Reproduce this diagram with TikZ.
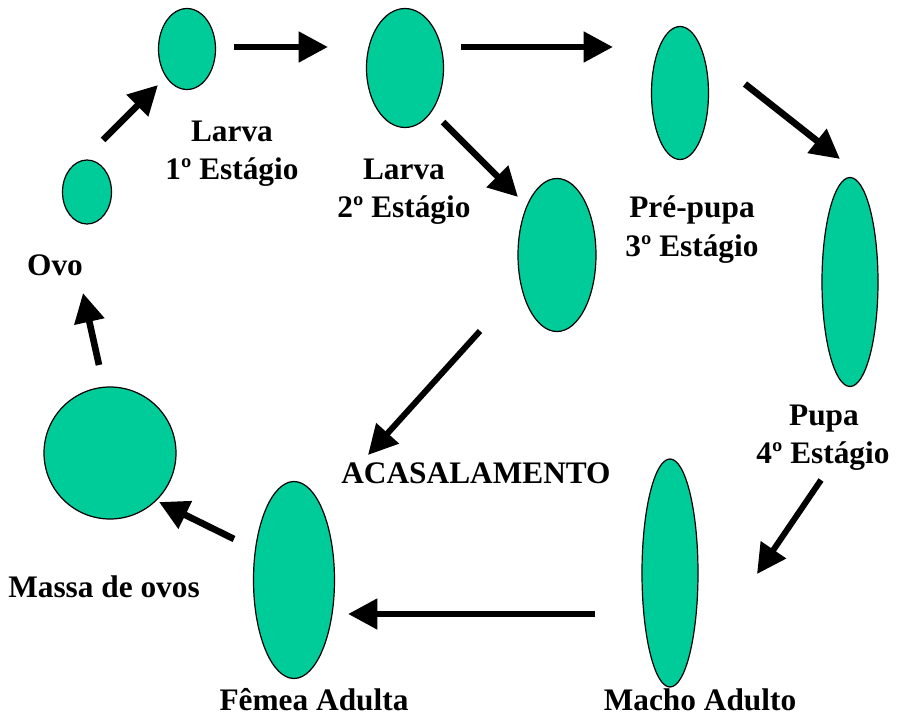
\documentclass[tikz,border=0pt]{standalone}
\usepackage{fontspec}
\setmainfont{Liberation Serif}
\usetikzlibrary{arrows.meta,shapes.geometric}
\definecolor{larvagreen}{HTML}{00CC99}
\tikzset{
  blob/.style={draw=black,line width=0.9pt,fill=larvagreen,ellipse,inner sep=0pt},
  flow/.style={line width=5pt,-{Triangle[length=22pt,width=22pt]}},
  lbl/.style={anchor=base,inner sep=0pt,font=\fontsize{23.5}{28}\selectfont\bfseries}
}
\begin{document}
\begin{tikzpicture}[x=0.75pt,y=-0.75pt]
\useasboundingbox (0,0) rectangle (901,717);
% stages
\node[blob,minimum width=49pt*0.75/0.75*0.75,minimum height=64*0.75pt] (ovo) at (87,192) {};
\node[blob,minimum width=57*0.75pt,minimum height=81*0.75pt] (l1) at (187,49) {};
\node[blob,minimum width=77*0.75pt,minimum height=119*0.75pt] (l2) at (405,68) {};
\node[blob,minimum width=57*0.75pt,minimum height=133*0.75pt] (pp) at (680,93) {};
\node[blob,minimum width=78*0.75pt,minimum height=153*0.75pt] (mid) at (557,255) {};
\node[blob,minimum width=56*0.75pt,minimum height=209*0.75pt] (pupa) at (850,282) {};
\node[blob,minimum width=56*0.75pt,minimum height=228*0.75pt] (macho) at (670,573) {};
\node[blob,minimum width=81*0.75pt,minimum height=197*0.75pt] (femea) at (294,580) {};
\node[blob,circle,minimum size=132*0.75pt] (massa) at (110,453) {};
% labels
\node[lbl] (t1a) at (232,142) {Larva};
\node[lbl] (t1b) at (232,180) {1º Estágio};
\node[lbl] (t2a) at (404,180) {Larva};
\node[lbl] (t2b) at (404,218) {2º Estágio};
\node[lbl] (t3a) at (692,218) {Pré-pupa};
\node[lbl] (t3b) at (692,256) {3º Estágio};
\node[lbl] (t4a) at (824,425) {Pupa};
\node[lbl] (t4b) at (823,463) {4º Estágio};
\node[lbl] (tovo) at (55,275) {Ovo};
\node[lbl] (tacas) at (476,483) {ACASALAMENTO};
\node[lbl] (tmassa) at (104,597) {Massa de ovos};
\node[lbl] (tfem) at (314,710) {Fêmea Adulta};
\node[lbl] (tmac) at (700,710) {Macho Adulto};
% arrow end points
\coordinate (a1s) at (103,140); \coordinate (a1e) at (158,85);
\coordinate (a2s) at (234,47);  \coordinate (a2e) at (328,47);
\coordinate (a3s) at (461,47);  \coordinate (a3e) at (613,47);
\coordinate (a4s) at (745,84);  \coordinate (a4e) at (840,159);
\coordinate (a5s) at (443,122); \coordinate (a5e) at (518,197);
\coordinate (a6s) at (480,331); \coordinate (a6e) at (368,455);
\coordinate (a7s) at (821,480); \coordinate (a7e) at (757,574);
\coordinate (a8s) at (595,614); \coordinate (a8e) at (348,614);
\coordinate (a9s) at (234,539); \coordinate (a9e) at (159,502);
\coordinate (a10s) at (99,365); \coordinate (a10e) at (83,293);
% arrows
\draw[flow] (a1s) -- (a1e);
\draw[flow] (a2s) -- (a2e);
\draw[flow] (a3s) -- (a3e);
\draw[flow] (a4s) -- (a4e);
\draw[flow] (a5s) -- (a5e);
\draw[flow,line width=4.5pt] (a6s) -- (a6e);
\draw[flow,line width=4.5pt] (a7s) -- (a7e);
\draw[flow] (a8s) -- (a8e);
\draw[flow] (a9s) -- (a9e);
\draw[flow] (a10s) -- (a10e);
\end{tikzpicture}
\end{document}
